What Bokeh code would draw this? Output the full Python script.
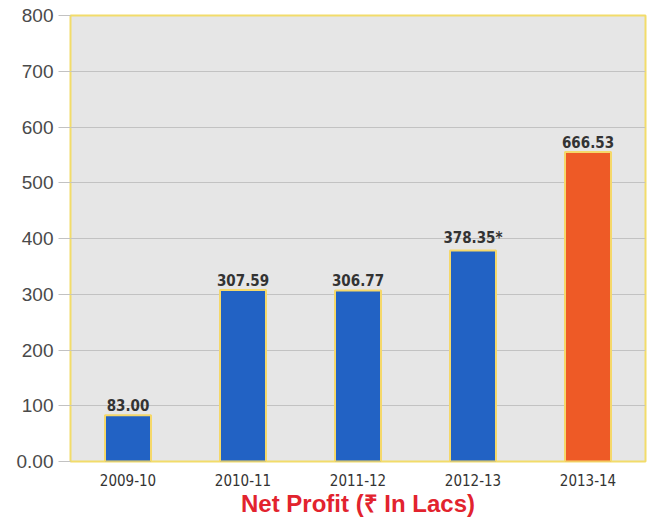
from bokeh.plotting import figure
from bokeh.models import ColumnDataSource, FixedTicker, Range1d
from bokeh.core.properties import value
from bokeh.embed import file_html
from bokeh.resources import INLINE

years = ["2009-10", "2010-11", "2011-12", "2012-13", "2013-14"]
bar_heights = [83.00, 307.59, 306.77, 378.35, 555.0]
bar_labels = ["83.00", "307.59", "306.77", "378.35*", "666.53"]
bar_colors = ["#2262c4", "#2262c4", "#2262c4", "#2262c4", "#ee5a26"]
y_ticks = [0, 100, 200, 300, 400, 500, 600, 700, 800]

src = ColumnDataSource(dict(x=years, top=bar_heights, label=bar_labels, color=bar_colors))

p = figure(x_range=years, y_range=Range1d(0, 800), width=651, height=522,
           output_backend="svg", toolbar_location=None,
           min_border_left=70, min_border_right=6, min_border_top=15, min_border_bottom=61)
p.background_fill_color = "#e6e6e6"
p.border_fill_color = "white"
p.outline_line_color = "#f2dc6a"
p.outline_line_width = 2

p.vbar(x="x", top="top", width=0.4, bottom=0, source=src, fill_color="color",
       line_color="#f5d86a", line_width=2)
p.text(x="x", y="top", text="label", source=src, y_offset=-4,
       text_align="center", text_baseline="bottom", text_font_size="15px",
       text_font_style="bold", text_color="#333333",
       text_font=value("Liberation Sans Narrow, DejaVu Sans Condensed, sans-serif"))

p.xgrid.visible = False
p.ygrid.ticker = FixedTicker(ticks=[100, 200, 300, 400, 500, 600, 700])
p.ygrid.grid_line_color = "#c2c2c2"
p.ygrid.grid_line_width = 1

ya = p.yaxis[0]
ya.ticker = FixedTicker(ticks=y_ticks)
ya.major_label_overrides = {0: "0.00"}
ya.axis_line_color = None
ya.minor_tick_line_color = None
ya.major_tick_out = 12
ya.major_tick_in = 0
ya.major_tick_line_color = "#c2c2c2"
ya.major_label_standoff = 5
ya.major_label_text_font = "Liberation Sans"
ya.major_label_text_font_size = "19px"
ya.major_label_text_color = "#4a4a4a"

xa = p.xaxis[0]
xa.axis_line_color = None
xa.major_tick_line_color = None
xa.major_label_standoff = 6
xa.major_label_text_font = "Liberation Sans Narrow, DejaVu Sans Condensed, sans-serif"
xa.major_label_text_font_size = "15px"
xa.major_label_text_color = "#333333"
xa.axis_label = "Net Profit (₹ In Lacs)"
xa.axis_label_text_font = "Liberation Sans"
xa.axis_label_text_font_style = "bold"
xa.axis_label_text_font_size = "24px"
xa.axis_label_text_color = "#e2232e"
xa.axis_label_standoff = 1

open("out.html", "w").write(file_html(p, INLINE))
